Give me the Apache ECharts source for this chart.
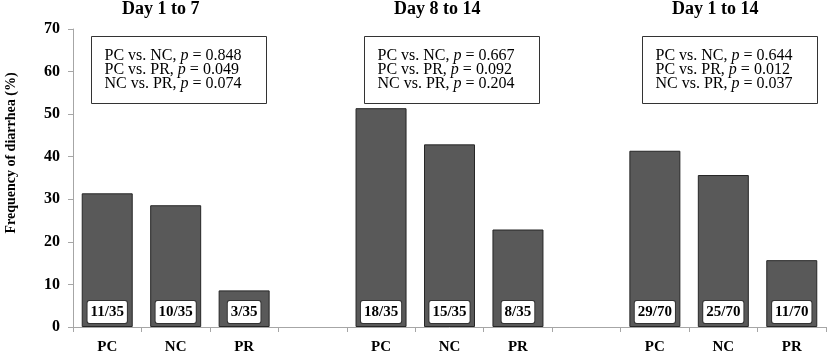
<!DOCTYPE html>
<html>
<head>
<meta charset="utf-8">
<script src="https://cdn.jsdelivr.net/npm/echarts@6/dist/echarts.min.js"></script>
<style>
  html, body { margin: 0; padding: 0; background: #fff; }
  #chart { width: 827px; height: 351px; }
</style>
</head>
<body>
<div id="chart"></div>
<script>
// groups are separated by an empty category slot
const categories = ['PC', 'NC', 'PR', '', 'PC', 'NC', 'PR', '', 'PC', 'NC', 'PR'];
const frequency = [31.4, 28.6, 8.6, '-', 51.4, 42.9, 22.9, '-', 41.4, 35.7, 15.7];
const counts = ['11/35', '10/35', '3/35', '', '18/35', '15/35', '8/35', '', '29/70', '25/70', '11/70'];
const yTicks = [0, 10, 20, 30, 40, 50, 60, 70];

const periods = ['Day 1 to 7', 'Day 8 to 14', 'Day 1 to 14'];
const comparisons = ['PC vs. NC', 'PC vs. PR', 'NC vs. PR'];
const pValues = [
    ['0.848', '0.049', '0.074'],
    ['0.667', '0.092', '0.204'],
    ['0.644', '0.012', '0.037'],
];

const serif = '"Liberation Serif", "Times New Roman", serif';
const titleX = [172, 444, 722];
const boxLeft = [91, 364, 642];

const graphics = [];
for (let i = 0; i < periods.length; i++) {
    graphics.push({
        type: 'text',
        left: titleX[i] - 50,
        top: 0,
        style: {
            text: periods[i],
            x: 50,
            align: 'center',
            font: 'bold 18px ' + serif,
            fill: '#000',
        },
    });
    let lines = [];
    for (let j = 0; j < comparisons.length; j++) {
        lines.push('{a|' + comparisons[j] + ', }{i|p}{a| = ' + pValues[i][j] + '}');
    }
    graphics.push({
        type: 'group',
        left: boxLeft[i],
        top: 36,
        children: [
            {
                type: 'rect',
                shape: { x: 0, y: 0, width: 175, height: 67 },
                style: { fill: '#fff', stroke: '#333', lineWidth: 1 },
            },
            {
                type: 'text',
                x: 13,
                y: 12,
                style: {
                    text: lines.join('\n'),
                    rich: {
                        a: { fontFamily: serif, fontSize: 16, lineHeight: 14, fill: '#000' },
                        i: { fontFamily: serif, fontSize: 16, lineHeight: 14, fontStyle: 'italic', fill: '#000' },
                    },
                },
            },
        ],
    });
}

const option = {
    animation: false,
    grid: { left: 73, right: 1, top: 29, bottom: 24, outerBoundsMode: 'none', containLabel: false },
    xAxis: {
        type: 'category',
        data: categories,
        axisLine: { lineStyle: { color: '#a6a6a6', width: 1 } },
        axisTick: { show: true, interval: 0, length: 5, lineStyle: { color: '#a6a6a6' } },
        axisLabel: {
            interval: 0,
            margin: 13,
            color: '#000',
            fontFamily: serif,
            fontWeight: 'bold',
            fontSize: 15,
        },
    },
    yAxis: {
        type: 'value',
        min: yTicks[0],
        max: yTicks[yTicks.length - 1],
        interval: 10,
        name: 'Frequency of diarrhea (%)',
        nameLocation: 'middle',
        nameGap: 55,
        nameTextStyle: {
            color: '#000', fontFamily: serif, fontWeight: 'bold', fontSize: 14,
            padding: [0, 0, 0, 50],
        },
        splitLine: { show: false },
        axisLine: { show: true, lineStyle: { color: '#a6a6a6', width: 1 } },
        axisTick: { show: true, length: 5, lineStyle: { color: '#a6a6a6' } },
        axisLabel: {
            margin: 13,
            color: '#000',
            fontFamily: serif,
            fontWeight: 'bold',
            fontSize: 16,
        },
    },
    series: [
        {
            type: 'bar',
            data: frequency,
            barWidth: 51,
            itemStyle: { color: '#595959', borderColor: '#262626', borderWidth: 1 },
            label: {
                show: true,
                position: 'insideBottom',
                distance: 4,
                formatter: (p) => counts[p.dataIndex],
                color: '#000',
                fontFamily: serif,
                fontWeight: 'bold',
                fontSize: 15,
                lineHeight: 15,
                backgroundColor: '#fff',
                borderColor: '#333',
                borderWidth: 1,
                borderRadius: 2,
                padding: [4, 3, 3, 3],
            },
        },
    ],
    graphic: graphics,
};

const chart = echarts.init(document.getElementById('chart'));
chart.setOption(option);
</script>
</body>
</html>
